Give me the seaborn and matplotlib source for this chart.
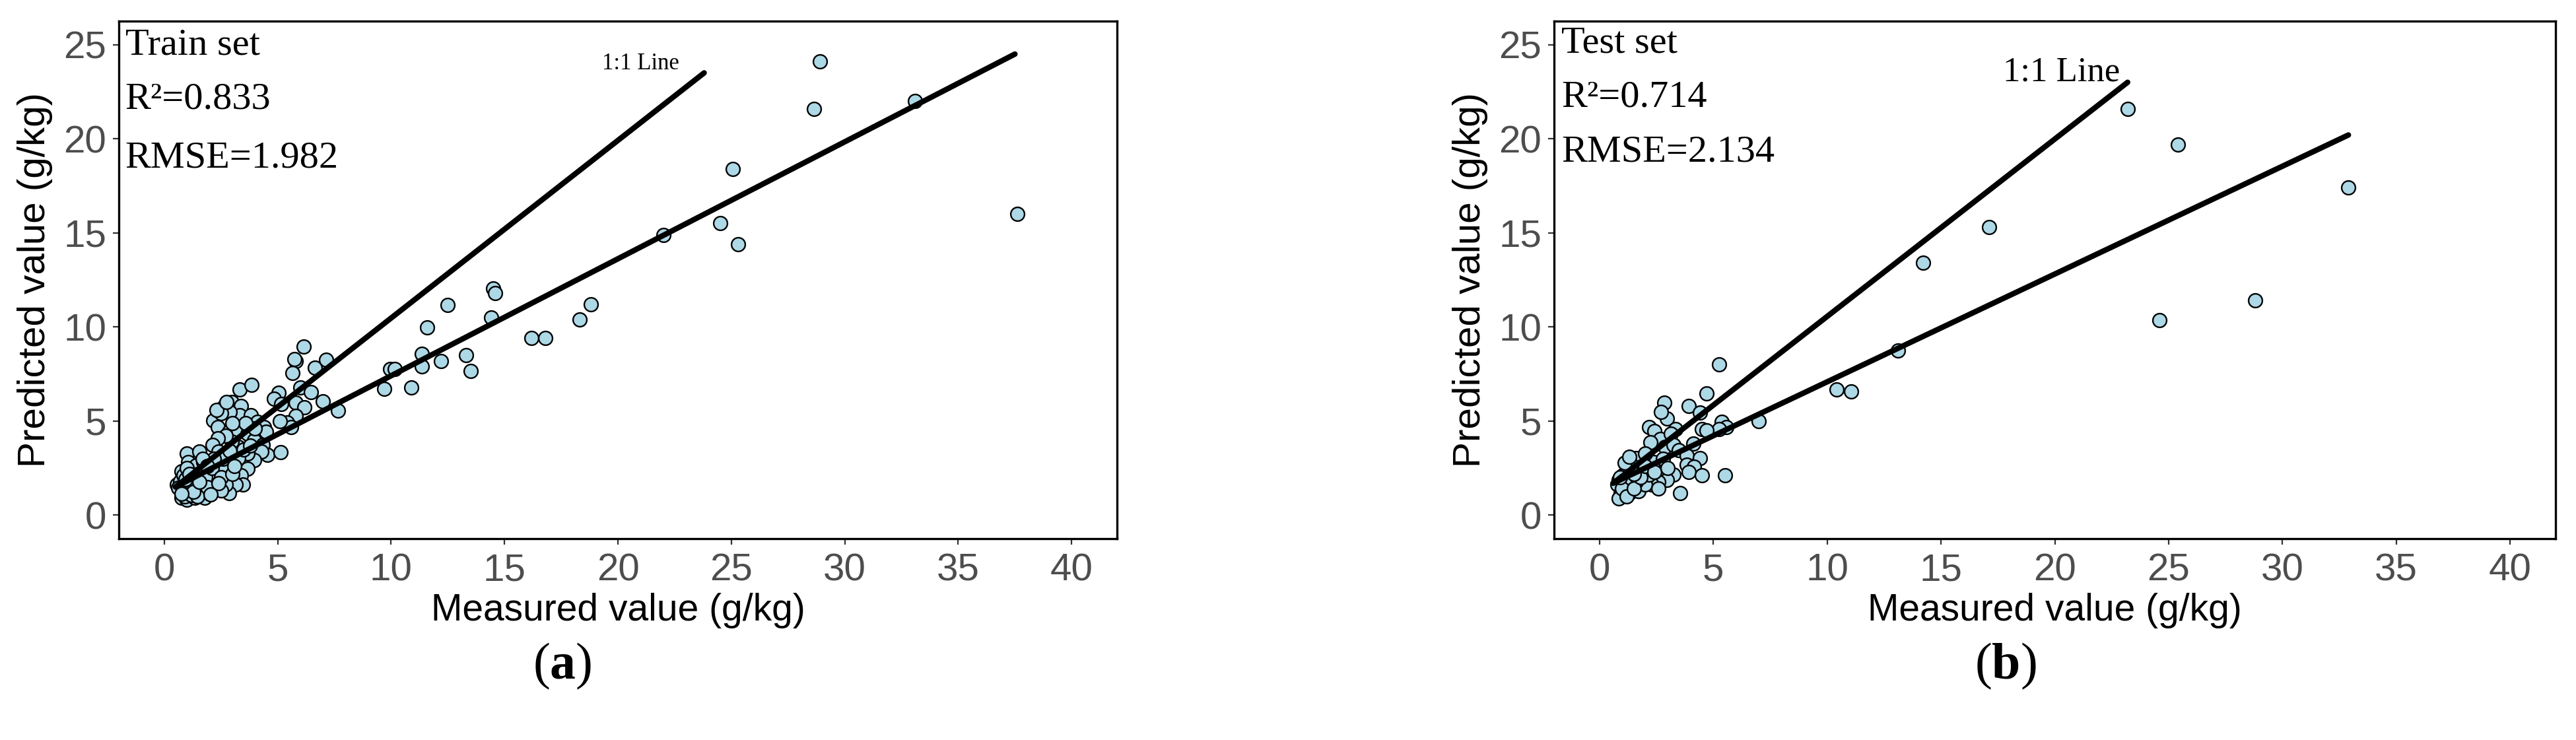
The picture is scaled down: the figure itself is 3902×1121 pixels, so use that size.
import matplotlib
matplotlib.use("Agg")
import matplotlib.pyplot as plt
import seaborn as sns

# ---------------- data ----------------
train_measured = [
    28.9, 28.65, 33.1, 25.07, 22.0, 24.5, 25.3, 37.6,
    14.5, 14.6, 12.5, 11.6, 14.4, 18.3, 18.8, 16.2, 16.8, 13.3, 13.5, 12.2,
    11.35, 11.35, 9.96, 10.15, 9.7, 10.9,
    6.14, 5.80, 5.75, 5.64, 6.63, 7.14, 3.33, 3.85, 5.03, 4.83, 5.99, 6.48,
    7.0, 7.65, 5.17, 5.8, 6.19, 5.8, 5.42, 5.6, 5.1, 2.97, 2.61, 3.38, 3.33,
    2.88, 3.82, 4.1, 4.4, 4.5, 2.17, 2.36, 2.85, 3.28, 3.67, 3.96, 4.35, 4.54,
    4.30, 5.13, 3.96, 3.67, 3.28, 2.99, 2.70, 2.36, 2.12, 2.4, 2.7, 2.99, 3.28,
    3.67, 3.38, 3.48, 3.14, 2.85, 2.70, 2.36, 2.12, 2.2, 1.78, 1.97, 1.01,
    1.54, 1.06, 1.4, 1.73, 1.88, 0.77, 0.96, 1.25, 1.64, 0.77, 1.15, 1.44,
    0.67, 0.57, 1.01, 1.35, 1.73, 2.02, 2.3, 2.6,
    0.8, 0.9, 1.1, 1.2, 1.3, 0.7, 0.85, 1.0, 1.5, 1.6, 1.8, 1.9, 2.1, 2.5,
    2.6, 2.2, 1.7, 0.9, 1.2, 1.45, 2.5, 2.4, 3.0, 3.1, 2.9, 3.5, 3.8, 4.0,
    3.6, 3.0, 2.5, 2.3, 2.75, 0.62, 0.95, 1.3, 1.55, 1.1, 0.75, 1.9, 2.05,
]
train_predicted = [
    24.1, 21.6, 22.0, 18.4, 14.9, 15.5, 14.4, 16.0,
    12.05, 11.8, 11.15, 9.98, 10.5, 10.4, 11.2, 9.42, 9.42, 8.5, 7.65, 8.18,
    8.58, 7.9, 7.75, 7.75, 6.72, 6.78,
    8.95, 8.19, 8.30, 7.54, 7.84, 8.25, 6.69, 6.92, 6.49, 6.20, 6.77, 6.55,
    6.03, 5.56, 5.90, 5.96, 5.73, 5.26, 4.91, 4.68, 5.0, 6.02, 5.73, 5.79, 5.32,
    5.5, 5.32, 4.97, 4.68, 4.44, 5.03, 4.68, 4.44, 4.44, 4.33, 3.98, 3.74, 3.22,
    3.39, 3.33, 2.92, 3.27, 3.63, 3.92, 4.21, 4.09, 3.74, 3.39, 3.04, 2.81, 3.04,
    2.46, 2.11, 1.64, 1.64, 1.17, 1.64, 2.11, 1.64, 1.40, 0.94, 1.17, 3.27,
    3.39, 2.81, 2.63, 2.81, 2.34, 2.34, 1.64, 1.87, 1.75, 0.94, 1.17, 1.40,
    1.40, 1.64, 0.82, 0.94, 1.40, 1.87, 2.81, 2.46,
    1.2, 1.5, 1.3, 2.0, 1.6, 1.8, 2.1, 2.5, 2.2, 1.2, 2.0, 1.5, 2.5, 2.0,
    3.0, 3.0, 3.0, 1.0, 1.05, 1.0, 1.3, 1.7, 2.2, 2.6, 3.4, 3.5, 3.7, 4.6,
    4.9, 4.9, 5.4, 5.6, 6.0, 1.45, 1.9, 1.25, 1.75, 2.2, 1.15, 2.6, 1.1,
]

test_measured = [
    23.2, 25.4, 32.9, 17.1, 28.8, 24.6, 14.2, 13.1, 10.4, 11.06, 7.0, 5.25,
    4.71, 2.84, 2.95, 2.71, 3.92, 4.4, 5.37, 5.57, 5.25, 4.5, 4.69, 2.18,
    2.42, 2.66, 3.34, 3.14, 2.23, 2.86, 3.24, 4.11, 3.48, 3.82, 4.4, 3.82,
    4.16, 3.92, 4.5, 5.51, 3.24, 3.53, 2.95, 2.57, 2.28, 2.08, 2.66, 2.37,
    1.79, 1.6, 1.99, 1.4, 1.21, 1.02, 0.83, 0.78, 0.92, 0.83, 1.31, 1.7,
    1.99, 2.57, 1.6, 2.18, 1.4, 1.12,
    1.0, 1.2, 1.5, 1.8, 2.0, 2.4, 2.8, 3.0, 1.5, 0.9, 1.1, 1.3,
]
test_predicted = [
    21.6, 19.7, 17.4, 15.3, 11.4, 10.35, 13.4, 8.75, 6.67, 6.58, 5.0, 8.0,
    6.46, 5.96, 5.15, 5.5, 5.79, 5.44, 4.97, 4.68, 4.56, 4.56, 4.5, 4.68,
    4.45, 4.04, 4.56, 4.33, 3.86, 3.63, 3.74, 3.80, 3.45, 3.16, 3.04, 2.69,
    2.57, 2.28, 2.11, 2.11, 2.16, 1.17, 1.87, 1.75, 1.64, 2.05, 2.69, 2.81,
    2.46, 3.04, 3.27, 2.69, 2.34, 2.11, 1.87, 1.64, 1.17, 0.88, 1.17, 1.29,
    1.64, 1.40, 1.75, 2.16, 1.87, 1.64,
    1.4, 1.0, 1.4, 2.0, 2.6, 2.3, 3.0, 2.5, 2.2, 2.0, 2.8, 3.1,
]

# fitted line and "1:1" line end points
train_fit_x = [0.5, 37.5]
train_fit_y = [1.5, 24.5]
train_one_x = [0.5, 23.8]
train_one_y = [1.5, 23.5]
test_fit_x = [0.6, 32.9]
test_fit_y = [1.7, 20.2]
test_one_x = [0.6, 23.2]
test_one_y = [1.7, 23.0]

x_ticks = [0, 5, 10, 15, 20, 25, 30, 35, 40]
y_ticks = [0, 5, 10, 15, 20, 25]

panels = [
    dict(mx=train_measured, py=train_predicted, fx=train_fit_x, fy=train_fit_y,
         ox=train_one_x, oy=train_one_y,
         lines=["Train set", "R\u00b2=0.833", "RMSE=1.982"], tag="a"),
    dict(mx=test_measured, py=test_predicted, fx=test_fit_x, fy=test_fit_y,
         ox=test_one_x, oy=test_one_y,
         lines=["Test set", "R\u00b2=0.714", "RMSE=2.134"], tag="b"),
]

# ---------------- style ----------------
sns.set_theme(style="white")
plt.rcParams["font.family"] = ["Liberation Sans", "DejaVu Sans"]
plt.rcParams["mathtext.fontset"] = "custom"
plt.rcParams["mathtext.rm"] = "Liberation Serif"
plt.rcParams["mathtext.bf"] = "Liberation Serif:bold"

W, H = 3902, 1121
fig = plt.figure(figsize=(W / 100, H / 100), dpi=100)
fig.patch.set_facecolor("white")

axes_rects = [
    [180 / W, 1 - 816 / H, 1512 / W, 784 / H],
    [2354 / W, 1 - 816 / H, 1517 / W, 784 / H],
]
text_pos = [
    dict(tx=0.0064, ty=[0.936, 0.831, 0.718], lx=0.484, ly=0.907, lsize=25),
    dict(tx=0.0073, ty=[0.939, 0.835, 0.729], lx=0.448, ly=0.885, lsize=38),
]
caption_x = [852 / W, 3038 / W]
serif = ["Liberation Serif", "DejaVu Serif"]

for p, rect, tp, cx in zip(panels, axes_rects, text_pos, caption_x):
    ax = fig.add_axes(rect)
    sns.scatterplot(x=p["mx"], y=p["py"], ax=ax, s=225, color="#ADD8E6",
                    edgecolor="black", linewidth=1.7, zorder=2, legend=False)
    sns.lineplot(x=p["fx"], y=p["fy"], ax=ax, color="black", lw=6, zorder=3)
    sns.lineplot(x=p["ox"], y=p["oy"], ax=ax, color="black", lw=6, zorder=3)

    ax.set_xlim(-2, 42)
    ax.set_ylim(-1.25, 26.25)
    ax.set_xticks(x_ticks)
    ax.set_yticks(y_ticks)
    ax.tick_params(axis="both", direction="out", length=6.5, width=1.6,
                   color="#333333", labelcolor="#4D4D4D", labelsize=42)
    ax.tick_params(axis="x", pad=9)
    ax.tick_params(axis="y", pad=7)
    ax.tick_params(top=False, right=False, bottom=True, left=True)
    for s in ax.spines.values():
        s.set_visible(True)
        s.set_color("black")
        s.set_linewidth(2.4)

    ax.set_xlabel("Measured value (g/kg)", fontsize=41, color="black")
    ax.set_ylabel("Predicted value (g/kg)", fontsize=42, color="black")
    ax.xaxis.set_label_coords(0.5, -0.105)
    ax.yaxis.set_label_coords(-0.066, 0.5)

    for line, yy in zip(p["lines"], tp["ty"]):
        ax.text(tp["tx"], yy, line, transform=ax.transAxes, family=serif,
                fontsize=42, color="black", ha="left", va="baseline")
    ax.text(tp["lx"], tp["ly"], "1:1 Line", transform=ax.transAxes,
            family=serif, fontsize=tp["lsize"], color="black",
            ha="left", va="baseline")

    fig.text(cx, 1 - 1028 / H, r"($\mathbf{%s}$)" % p["tag"], family=serif,
             fontsize=56, color="black", ha="center", va="baseline")

fig.savefig("out.png", dpi=100, facecolor="white")
